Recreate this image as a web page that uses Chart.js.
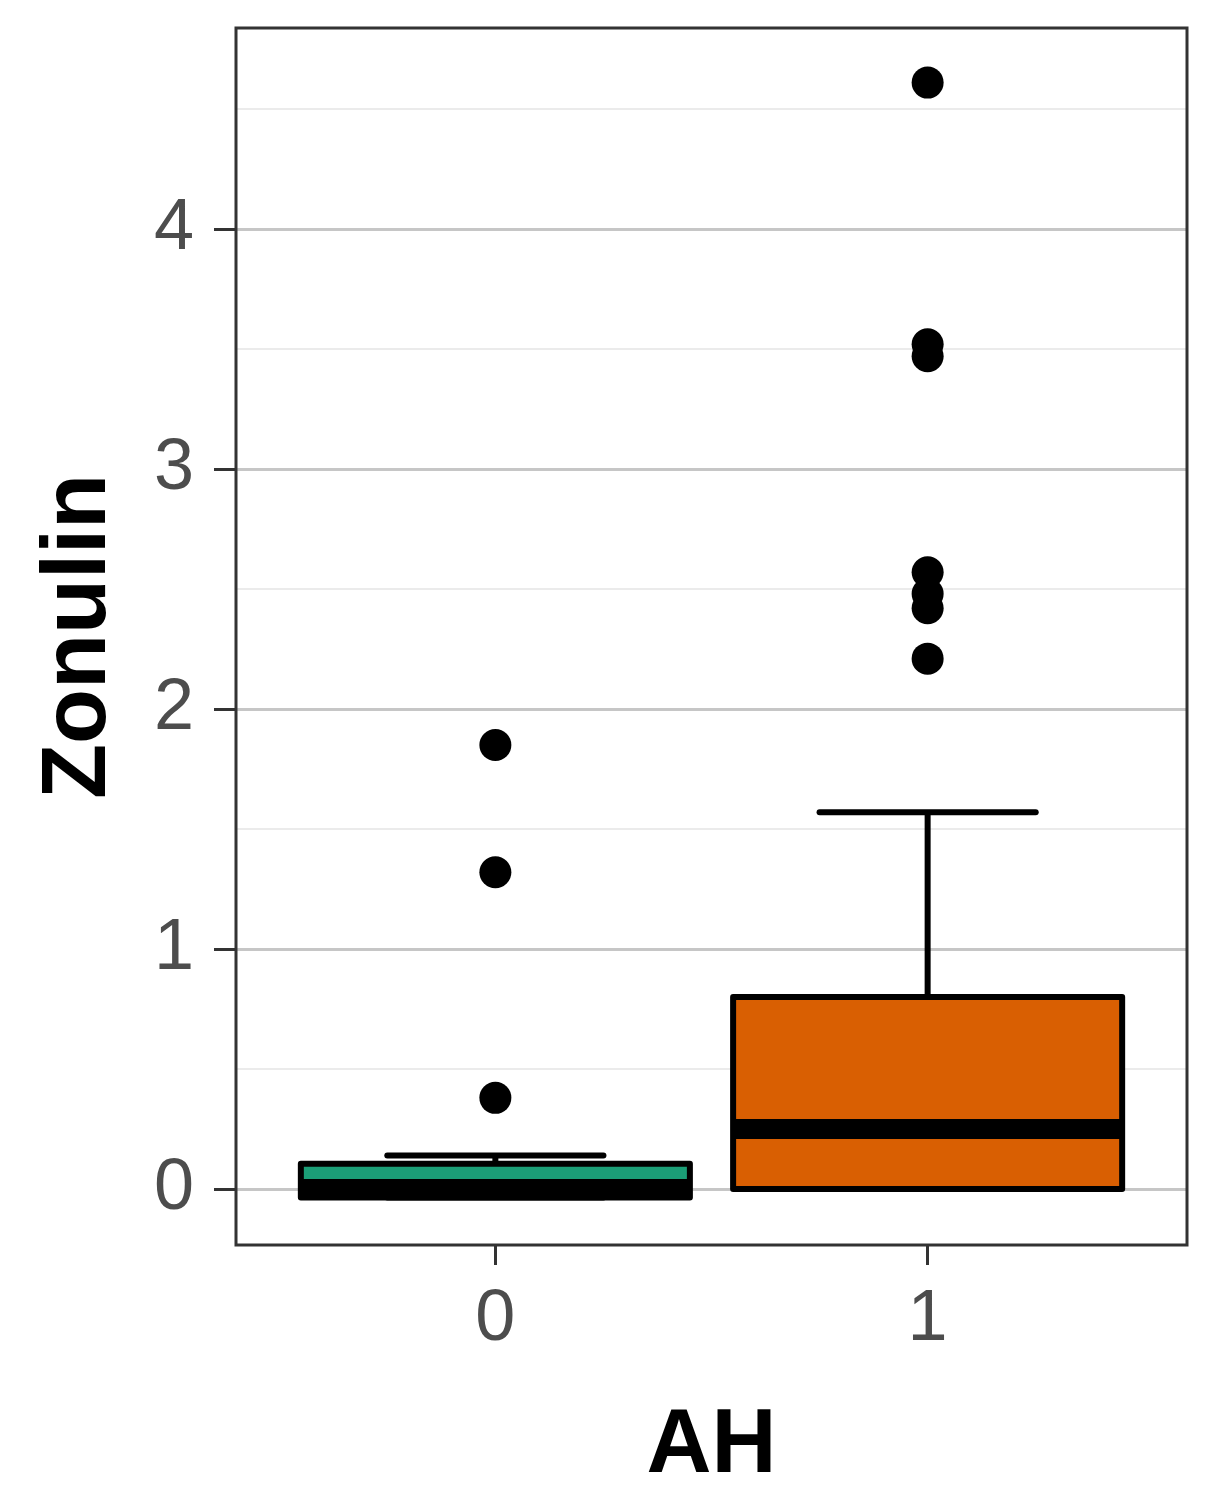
<!DOCTYPE html>
<html>
<head>
<meta charset="utf-8">
<script src="https://cdn.jsdelivr.net/npm/chart.js@4/dist/chart.umd.min.js"></script>
<style>
  html, body { margin: 0; padding: 0; background: #fff; }
  #wrap { width: 1217px; height: 1498px; position: relative; }
</style>
</head>
<body>
<div id="wrap"><canvas id="grafico"></canvas></div>
<script>
// ===============================
// Data
// ===============================
const groups = [0, 1];
const groupLabels = ["0", "1"];
const groupColors = ["#1B9E77", "#D95F02"];

const q1 = [-0.035, 0];
const medians = [0.0, 0.25];
const q3 = [0.105, 0.80];
const whiskerLow = [-0.035, 0];
const whiskerHigh = [0.14, 1.57];

const outliers0 = [0.38, 1.32, 1.85];
const outliers1 = [2.21, 2.42, 2.48, 2.57, 3.47, 3.52, 4.61];

const yTicks = [0, 0.5, 1, 1.5, 2, 2.5, 3, 3.5, 4, 4.5];

const FONT = "'Liberation Sans', Arial, sans-serif";
const BOX_HALF = 0.45;
const CAP_HALF = 0.25;

// ===============================
// Datasets
// ===============================
const lineBase = { type: "line", pointRadius: 0, fill: false, tension: 0 };

const boxFills = groups.map((g, i) => ({
  ...lineBase,
  data: [{ x: g - BOX_HALF, y: q3[i] }, { x: g + BOX_HALF, y: q3[i] }],
  borderWidth: 0,
  borderColor: "rgba(0,0,0,0)",
  backgroundColor: groupColors[i],
  fill: { value: q1[i] },
  order: 6
}));

const whiskers = groups.flatMap((g, i) => [
  { ...lineBase, data: [{ x: g, y: q3[i] }, { x: g, y: whiskerHigh[i] }], borderColor: "#000", borderWidth: 6, order: 5 },
  { ...lineBase, data: [{ x: g, y: q1[i] }, { x: g, y: whiskerLow[i] }], borderColor: "#000", borderWidth: 6, order: 5 },
  { ...lineBase, data: [{ x: g - CAP_HALF, y: whiskerHigh[i] }, { x: g + CAP_HALF, y: whiskerHigh[i] }], borderColor: "#000", borderWidth: 6, borderCapStyle: "round", order: 5 },
  { ...lineBase, data: [{ x: g - CAP_HALF, y: whiskerLow[i] }, { x: g + CAP_HALF, y: whiskerLow[i] }], borderColor: "#000", borderWidth: 6, borderCapStyle: "round", order: 5 }
]);

const boxOutlines = groups.map((g, i) => ({
  ...lineBase,
  data: [
    { x: g - BOX_HALF, y: q1[i] }, { x: g + BOX_HALF, y: q1[i] },
    { x: g + BOX_HALF, y: q3[i] }, { x: g - BOX_HALF, y: q3[i] },
    { x: g - BOX_HALF, y: q1[i] }
  ],
  borderColor: "#000",
  borderWidth: 6,
  borderJoinStyle: "round",
  order: 4
}));

const medianLines = groups.map((g, i) => ({
  ...lineBase,
  data: [{ x: g - BOX_HALF, y: medians[i] }, { x: g + BOX_HALF, y: medians[i] }],
  borderColor: "#000",
  borderWidth: 20,
  borderCapStyle: "butt",
  order: 3
}));

const outlierSets = [outliers0, outliers1].map((vals, i) => ({
  type: "scatter",
  data: vals.map(v => ({ x: groups[i], y: v })),
  pointRadius: 16,
  pointBackgroundColor: "#000",
  pointBorderWidth: 0,
  order: 1
}));

// ===============================
// Panel border
// ===============================
const panelBorder = {
  id: "panelBorder",
  afterDatasetsDraw(chart) {
    const { ctx, chartArea: { left, top, right, bottom } } = chart;
    ctx.save();
    ctx.strokeStyle = "#333";
    ctx.lineWidth = 3;
    ctx.strokeRect(left, top, right - left, bottom - top);
    ctx.restore();
  }
};

// ===============================
// Chart
// ===============================
new Chart(document.getElementById("grafico"), {
  type: "scatter",
  data: {
    datasets: [...boxFills, ...whiskers, ...boxOutlines, ...medianLines, ...outlierSets]
  },
  options: {
    responsive: true,
    maintainAspectRatio: false,
    animation: false,
    events: [],
    layout: { padding: { top: 28, right: 30, left: 0, bottom: 0 } },
    plugins: { legend: { display: false }, tooltip: { enabled: false } },
    scales: {
      x: {
        type: "linear",
        min: -0.6,
        max: 1.6,
        afterBuildTicks: s => { s.ticks = groups.map(v => ({ value: v })); },
        afterFit: s => { s.height = 253; s.paddingLeft = 0; s.paddingRight = 0; },
        ticks: {
          autoSkip: false,
          maxRotation: 0,
          padding: 12,
          color: "#4d4d4d",
          font: { family: FONT, size: 72 },
          callback: (v, i) => groupLabels[i]
        },
        grid: { drawOnChartArea: false, drawTicks: true, tickLength: 20, tickColor: "#333", tickWidth: 3 },
        border: { display: false },
        title: {
          display: true,
          text: "AH",
          color: "#000",
          font: { family: FONT, size: 90, weight: "bold" },
          padding: { top: 0, bottom: -3 }
        }
      },
      y: {
        type: "linear",
        min: -0.233,
        max: 4.8375,
        afterBuildTicks: s => { s.ticks = yTicks.map(v => ({ value: v })); },
        afterFit: s => { s.width = 236; s.paddingTop = 0; s.paddingBottom = 0; },
        ticks: {
          autoSkip: false,
          padding: 20,
          color: "#4d4d4d",
          font: { family: FONT, size: 72 },
          callback: v => (v % 1 === 0 ? String(v) : "")
        },
        grid: {
          drawTicks: true,
          tickLength: 22,
          color: ctx => (ctx.tick && ctx.tick.value % 1 === 0 ? "#c6c6c6" : "#ebebeb"),
          lineWidth: ctx => (ctx.tick && ctx.tick.value % 1 === 0 ? 3 : 2),
          tickColor: ctx => (ctx.tick && ctx.tick.value % 1 === 0 ? "#333" : "rgba(0,0,0,0)"),
          tickWidth: 3
        },
        border: { display: false },
        title: {
          display: true,
          text: "Zonulin",
          color: "#000",
          font: { family: FONT, size: 90, weight: "bold" },
          padding: { top: 26, bottom: 0 }
        }
      }
    }
  },
  plugins: [panelBorder]
});
</script>
</body>
</html>
